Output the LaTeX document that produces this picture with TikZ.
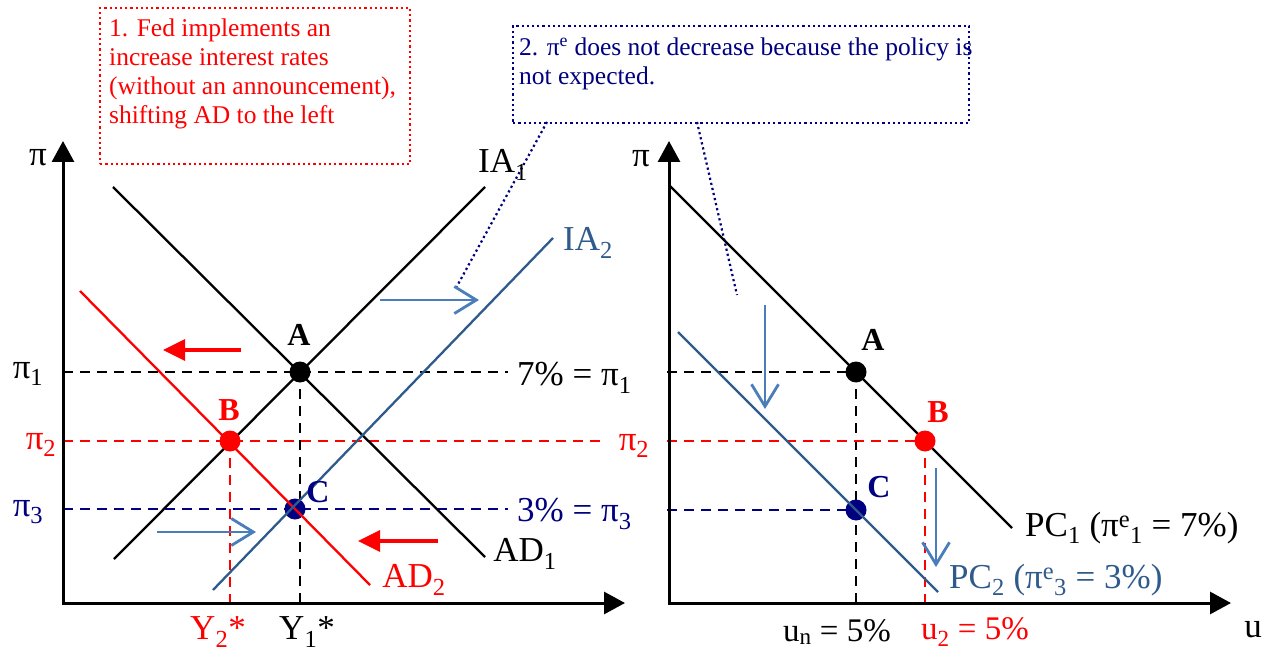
\documentclass[tikz,border=0pt]{standalone}
\usepackage{fontspec}
\setmainfont{Liberation Serif}
\usetikzlibrary{arrows.meta}
\definecolor{myred}{HTML}{FF0000}
\definecolor{mynavy}{HTML}{000080}
\definecolor{steel}{HTML}{2F5B8C}
\definecolor{lightsteel}{HTML}{4A7EBB}
\newcommand\sbs[1]{\textsubscript{#1}}
\newcommand\sps[1]{\textsuperscript{#1}}
\begin{document}
\begin{tikzpicture}[x=1pt,y=-1pt,
  lbl/.style={inner sep=0pt, font=\fontsize{35}{38}\selectfont},
  smlbl/.style={inner sep=0pt, font=\fontsize{33}{36}\selectfont},
  ptlbl/.style={inner sep=0pt, font=\fontsize{32}{36}\selectfont\bfseries},
  axisline/.style={line width=3pt, {Triangle[length=21pt,width=22pt]}-{Triangle[length=21pt,width=22pt]}},
  curve/.style={line width=2.3pt},
  guide/.style={line width=2.5pt, dash pattern=on 10pt off 7pt},
  shiftred/.style={myred, line width=3.2pt, -{Triangle[length=22pt,width=21pt]}},
  shiftblue/.style={lightsteel, line width=2.8pt, -{Straight Barb[length=22pt,width=27pt]}},
  dotline/.style={line width=2.2pt, dash pattern=on 2.2pt off 3pt},
  notebox/.style={dotline, anchor=north west, inner sep=0pt},
  notetext/.style={anchor=north west, align=left, inner sep=0pt, font=\fontsize{25.5}{29}\selectfont},
  dot/.style={radius=10.5pt},
]
\useasboundingbox (0,0) rectangle (1265,652);

% ---------- coordinates ----------
\coordinate (LO) at (63,603);
\coordinate (LYtop) at (63,141);
\coordinate (LXend) at (625,603);
\coordinate (RO) at (669,603);
\coordinate (RYtop) at (669,141);
\coordinate (RXend) at (1231,603);

\coordinate (A) at (300,372);
\coordinate (B) at (230,441);
\coordinate (C) at (295,509);
\coordinate (A2) at (856,372);
\coordinate (B2) at (925,441);
\coordinate (C2) at (856,510);

% ---------- note boxes ----------
\node[notebox, draw=myred, minimum width=310pt, minimum height=156pt] (note1) at (99,7) {};
\node[notetext, text=myred] (text1) at (109,19) {1. Fed implements an\\increase interest rates\\(without an announcement),\\shifting AD to the left};

\node[notebox, draw=mynavy, minimum width=456pt, minimum height=97pt] (note2) at (512,25) {};
\node[notetext, text=mynavy] (text2) at (519,38) {2. π\sps{e} does not decrease because the policy is\\not expected.};

\coordinate (n2a) at (547,122);
\coordinate (n2b) at (456,288);
\coordinate (n2c) at (697,122);
\coordinate (n2d) at (737,295);
\draw[dotline, mynavy] (n2a) -- (n2b);
\draw[dotline, mynavy] (n2c) -- (n2d);

% ---------- guide lines ----------
\coordinate (g1e) at (508,372);
\coordinate (g2e) at (602,441);
\coordinate (g3e) at (508,509);
\draw[guide] (LO |- A) -- (g1e);
\draw[guide] (A) -- (A |- LO);
\draw[guide, myred] (LO |- B) -- (g2e);
\draw[guide, myred] (B) -- (B |- LO);
\draw[guide, mynavy] (LO |- C) -- (g3e);

\coordinate (r1s) at (667,372);
\coordinate (r2s) at (667,441);
\coordinate (r3s) at (667,510);
\draw[guide] (r1s) -- (A2);
\draw[guide] (A2) -- (A2 |- RO);
\draw[guide, myred] (r2s) -- (B2);
\draw[guide, myred] (B2) -- (B2 |- RO);
\draw[guide, mynavy] (r3s) -- (C2);

% ---------- axes ----------
\draw[axisline] (LYtop) -- (LO) -- (LXend);
\draw[axisline] (RYtop) -- (RO) -- (RXend);

% dots under lines
\fill[mynavy] (C) circle[dot];
\fill[mynavy] (C2) circle[dot];

% ---------- curves, left ----------
\coordinate (ad1a) at (113,187);
\coordinate (ad1b) at (485,557);
\coordinate (ia1a) at (114,559);
\coordinate (ia1b) at (485,187);
\coordinate (ad2a) at (80,291);
\coordinate (ad2b) at (370,585);
\coordinate (ia2a) at (213,590);
\coordinate (ia2b) at (553,238);
\draw[curve] (ad1a) -- (ad1b);
\draw[curve] (ia1a) -- (ia1b);
\draw[curve, myred] (ad2a) -- (ad2b);
\draw[curve, steel] (ia2a) -- (ia2b);

% ---------- curves, right ----------
\coordinate (pc1a) at (669,185);
\coordinate (pc1b) at (1012,528);
\coordinate (pc2a) at (678,332);
\coordinate (pc2b) at (938,592);
\draw[curve] (pc1a) -- (pc1b);
\draw[curve, steel] (pc2a) -- (pc2b);

% dots over lines
\fill (A) circle[dot];
\fill[myred] (B) circle[dot];
\fill (A2) circle[dot];
\fill[myred] (B2) circle[dot];

% ---------- shift arrows ----------
\coordinate (s1a) at (241,350);
\coordinate (s1b) at (163,350);
\coordinate (s2a) at (438,541);
\coordinate (s2b) at (358,541);
\draw[shiftred] (s1a) -- (s1b);
\draw[shiftred] (s2a) -- (s2b);
\coordinate (s3a) at (380,300);
\coordinate (s3b) at (479,300);
\coordinate (s4a) at (157,532);
\coordinate (s4b) at (256,532);
\draw[shiftblue] (s3a) -- (s3b);
\draw[shiftblue] (s4a) -- (s4b);
\coordinate (s5a) at (765,305);
\coordinate (s5b) at (765,409);
\coordinate (s6a) at (936,468);
\coordinate (s6b) at (936,567);
\draw[shiftblue] (s5a) -- (s5b);
\draw[shiftblue] (s6a) -- (s6b);

% ---------- labels, left ----------
\node[lbl] (piL) at (38,158) {π};
\node[lbl] (pi1) at (28,374) {π\sbs{1}};
\node[lbl, text=myred] (pi2) at (41,445) {π\sbs{2}};
\node[lbl, text=mynavy] (pi3) at (28,512) {π\sbs{3}};
\node[lbl, anchor=west] (l7) at (517,378) {7\% = π\sbs{1}};
\node[lbl, text=myred] (pi2r) at (634,446) {π\sbs{2}};
\node[lbl, anchor=west, text=mynavy] (l3) at (517,514) {3\% = π\sbs{3}};
\node[lbl] (lad1) at (525,554) {AD\sbs{1}};
\node[lbl, text=myred] (lad2) at (414,580) {AD\sbs{2}};
\node[lbl] (lia1) at (503,165) {IA\sbs{1}};
\node[lbl, text=steel] (lia2) at (588,243) {IA\sbs{2}};
\node[ptlbl] (lA) at (299,335) {A};
\node[ptlbl, text=myred] (lB) at (229,410) {B};
\node[ptlbl, text=mynavy] (lC) at (318,492) {C};
\node[lbl, text=myred] (ly2) at (218,632) {Y\sbs{2}*};
\node[lbl] (ly1) at (307,632) {Y\sbs{1}*};

% ---------- labels, right ----------
\node[lbl] (piR) at (641,159) {π};
\node[ptlbl] (rA) at (873,340) {A};
\node[ptlbl, text=myred] (rB) at (938,412) {B};
\node[ptlbl, text=mynavy] (rC) at (879,487) {C};
\node[lbl, anchor=west] (pc1l) at (1025,528) {PC\sbs{1} (π\sps{e}\sbs{1} = 7\%)};
\node[lbl, anchor=west, text=steel] (pc2l) at (949,580) {PC\sbs{2} (π\sps{e}\sbs{3} = 3\%)};
\node[smlbl] (un) at (837,632) {u\sbs{n} = 5\%};
\node[smlbl, text=myred] (u2) at (975,632) {u\sbs{2} = 5\%};
\node[lbl] (uax) at (1253,630) {u};
\end{tikzpicture}
\end{document}
